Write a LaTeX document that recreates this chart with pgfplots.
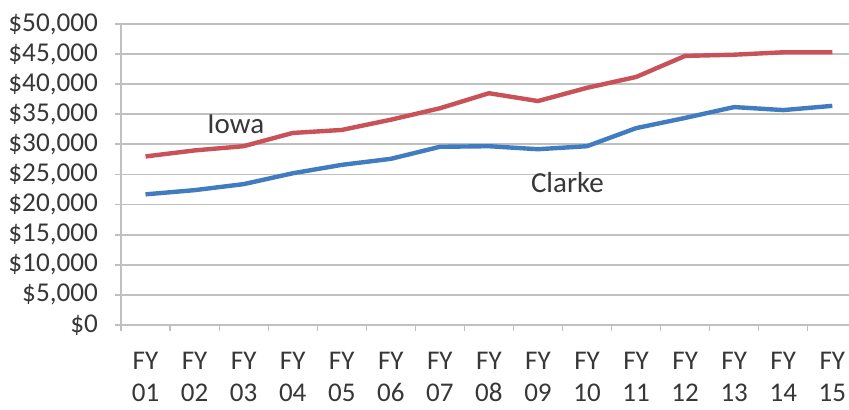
\documentclass[border=0pt]{standalone}
\usepackage{pgfplots}
\pgfplotsset{compat=1.18}
\usepackage{fontspec}
\setmainfont{Carlito}
\definecolor{iowared}{RGB}{200,82,88}
\definecolor{clarkeblue}{RGB}{66,124,192}
\definecolor{txt}{RGB}{55,55,55}
\definecolor{gridc}{RGB}{192,192,192}

\begin{document}
\begin{tikzpicture}
  \path[use as bounding box] (-60.5pt,-42.5pt) rectangle (364pt,162.5pt);
  \begin{axis}[
      scale only axis,
      width=364pt,
      height=150.5pt,
      xmin=-0.5, xmax=14.34,
      ymin=0, ymax=50000,
      axis lines=left,
      axis line style={gridc, line width=0.9pt, -},
      xtick={0,...,14},
      xticklabels={FY\\01,FY\\02,FY\\03,FY\\04,FY\\05,FY\\06,FY\\07,FY\\08,FY\\09,FY\\10,FY\\11,FY\\12,FY\\13,FY\\14,FY\\15},
      x tick label style={align=center, font=\fontsize{13.5}{16}\selectfont, text=txt, yshift=-7pt},
      major x tick style={draw=none},
      minor xtick={-0.5,0.5,...,13.5},
      minor x tick style={gridc, line width=0.6pt},
      ytick={0,5000,...,50000},
      yticklabel={\$\pgfmathprintnumber{\tick}},
      scaled y ticks=false,
      /pgf/number format/.cd, 1000 sep={,}, assume math mode=true, /pgfplots/.cd,
      y tick label style={font=\fontsize{13.6}{15}\selectfont, text=txt, xshift=-5pt},
      ymajorgrids=true,
      grid style={gridc, line width=0.9pt},
      tick align=outside,
      major tick length=3pt,
      minor tick length=3pt,
      y tick style={gridc, line width=0.9pt},
      clip=false,
    ]
    % Iowa
    \addplot[iowared, line width=2.2pt] coordinates {
      (0,28000) (1,29000) (2,29700) (3,31900) (4,32400) (5,34100) (6,36000)
      (7,38500) (8,37200) (9,39400) (10,41200) (11,44700) (12,44900) (13,45300) (14,45300)
    };
    % Clarke
    \addplot[clarkeblue, line width=2.2pt] coordinates {
      (0,21700) (1,22400) (2,23400) (3,25200) (4,26600) (5,27600) (6,29600)
      (7,29700) (8,29200) (9,29700) (10,32700) (11,34400) (12,36200) (13,35700) (14,36400)
    };
    \node[font=\fontsize{14.5}{16}\selectfont, text=txt] at (axis cs:1.84,33300) {Iowa};
    \node[font=\fontsize{14.5}{16}\selectfont, text=txt] at (axis cs:8.6,23700) {Clarke};
  \end{axis}
\end{tikzpicture}
\end{document}
